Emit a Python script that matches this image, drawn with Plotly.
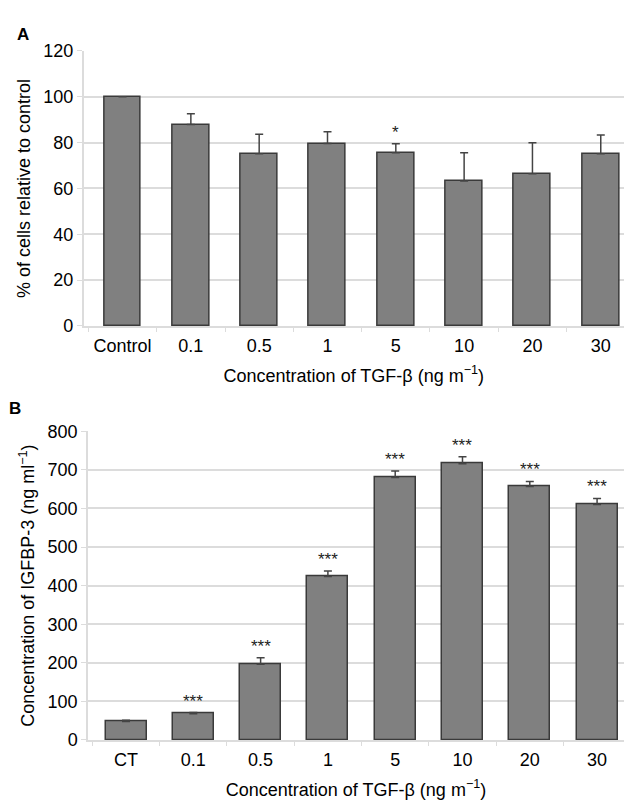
import plotly.graph_objects as go

# ---- data ----
cats_a = ["Control", "0.1", "0.5", "1", "5", "10", "20", "30"]
vals_a = [100, 87.9, 75.1, 79.6, 75.6, 63.3, 66.4, 75.1]
err_a = [0, 4.7, 8.6, 5.1, 3.9, 12.3, 13.6, 8.2]
sig_a = ["", "", "", "", "*", "", "", ""]

cats_b = ["CT", "0.1", "0.5", "1", "5", "10", "20", "30"]
vals_b = [48, 68, 196, 424, 680, 716, 657, 610]
err_b = [3, 3, 17, 14, 17, 18, 13, 16]
sig_b = ["", "***", "***", "***", "***", "***", "***", "***"]

yticks_a = [0, 20, 40, 60, 80, 100, 120]
yticks_b = [0, 100, 200, 300, 400, 500, 600, 700, 800]

W, H = 624, 808
FONT = "Liberation Sans, Arial, sans-serif"
BAR = "#808080"
EDGE = "#3a3a3a"
GRID = "#dcdcdc"

fig = go.Figure()

fig.add_trace(go.Bar(
    x=cats_a, y=vals_a, width=0.54,
    marker=dict(color=BAR, line=dict(color=EDGE, width=1.5)),
    error_y=dict(type="data", array=err_a, arrayminus=[0]*len(err_a), symmetric=False,
                 color="#444444", thickness=1.5, width=4),
    xaxis="x", yaxis="y", showlegend=False))

fig.add_trace(go.Bar(
    x=cats_b, y=vals_b, width=0.61,
    marker=dict(color=BAR, line=dict(color=EDGE, width=1.5)),
    error_y=dict(type="data", array=err_b, arrayminus=[0]*len(err_b), symmetric=False,
                 color="#444444", thickness=1.5, width=4),
    xaxis="x2", yaxis="y2", showlegend=False))

annotations = []
for i, (v, e, s) in enumerate(zip(vals_a, err_a, sig_a)):
    if s:
        annotations.append(dict(x=i, y=v + e, xref="x", yref="y", text=s, showarrow=False,
                                yanchor="bottom", font=dict(family=FONT, size=17, color="#222")))
for i, (v, e, s) in enumerate(zip(vals_b, err_b, sig_b)):
    if s:
        annotations.append(dict(x=i, y=v + e, xref="x2", yref="y2", text=s, showarrow=False,
                                yanchor="bottom", font=dict(family=FONT, size=17, color="#222")))

# panel letters
annotations.append(dict(x=15 / W, y=1 - 13 / H, xref="paper", yref="paper", text="<b>A</b>",
                        showarrow=False, xanchor="left", yanchor="top",
                        font=dict(family=FONT, size=17, color="black")))
annotations.append(dict(x=7 / W, y=1 - 397 / H, xref="paper", yref="paper", text="<b>B</b>",
                        showarrow=False, xanchor="left", yanchor="top",
                        font=dict(family=FONT, size=17, color="black")))

tickfont = dict(family=FONT, size=18, color="black")
titlefont = dict(family=FONT, size=18, color="black")

common_x = dict(type="category", tickson="boundaries", ticks="outside", ticklen=4,
                tickcolor=GRID, showgrid=False, showline=True, linecolor=GRID, linewidth=1.5,
                tickfont=tickfont, title_font=titlefont, zeroline=False, ticklabelstandoff=3)
common_y = dict(showgrid=True, gridcolor=GRID, gridwidth=1.5, showline=True, linecolor=GRID,
                linewidth=1.5, ticks="outside", ticklen=5, tickcolor=GRID, tickfont=tickfont,
                title_font=titlefont, zeroline=False)

fig.update_layout(
    width=W, height=H,
    margin=dict(l=0, r=0, t=0, b=0),
    paper_bgcolor="white", plot_bgcolor="white",
    bargap=0,
    font=dict(family=FONT, color="black"),
    xaxis=dict(domain=[83.6 / W, 1], range=[-0.57, 7.34], anchor="y",
               title=dict(text="Concentration of TGF-β (ng m<sup>−1</sup>)", standoff=14),
               **common_x),
    yaxis=dict(domain=[1 - 324 / H, 1 - 42 / H], range=[0, 120], tickvals=yticks_a, anchor="x",
               title=dict(text="% of cells relative to control", standoff=8), **common_y),
    xaxis2=dict(domain=[88 / W, 1], range=[-0.565, 7.40], anchor="y2",
                title=dict(text="Concentration of TGF-β (ng m<sup>−1</sup>)", standoff=14),
                **common_x),
    yaxis2=dict(domain=[1 - 748.5 / H, 1 - 432 / H], range=[0, 800], tickvals=yticks_b, anchor="x2",
                title=dict(text="Concentration of IGFBP-3 (ng ml<sup>−1</sup>)", standoff=8), **common_y),
    annotations=annotations,
)

fig.write_html("out.html", config={"displayModeBar": False},
               post_script="document.body.style.margin='0';document.body.style.overflow='hidden';")
